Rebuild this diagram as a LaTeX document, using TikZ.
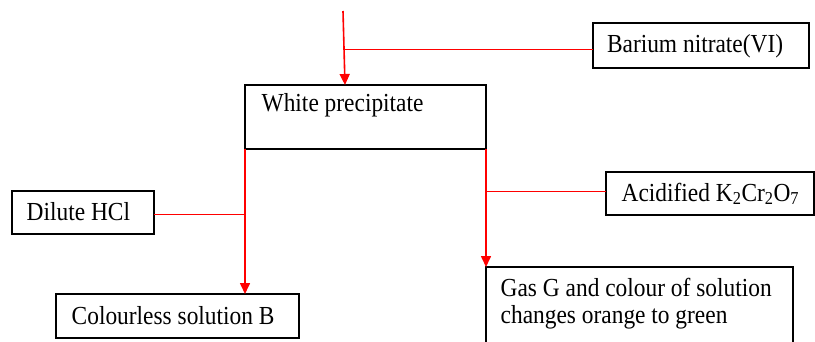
\documentclass[tikz,border=0pt]{standalone}
\usepackage{fontspec}
\setmainfont{Liberation Serif}[FakeStretch=0.9]
\usetikzlibrary{arrows.meta,calc}
\tikzset{
  box/.style={draw=black, line width=1.5pt, inner sep=0pt, outer sep=0pt, anchor=north west},
  txt/.style={inner sep=0pt, outer sep=0pt, anchor=base west, font=\fontsize{26}{27}\selectfont},
  link/.style={draw=red, line width=1.6pt},
  arr/.style={link, -{Triangle[width=10pt,length=11pt]}}
}
\begin{document}
\begin{tikzpicture}[x=1pt,y=-1pt]
\clip (0,0) rectangle (815,341);
\fill[white] (0,0) rectangle (815,341);
% boxes
\node[box, minimum width=216pt, minimum height=45pt] (bar) at (593,23) {};
\node[box, minimum width=241pt, minimum height=64pt] (wp) at (245,85) {};
\node[box, minimum width=142pt, minimum height=43pt] (dil) at (12,191) {};
\node[box, minimum width=243pt, minimum height=44pt] (col) at (56,294) {};
\node[box, minimum width=208pt, minimum height=43pt] (acid) at (606,172) {};
\node[box, minimum width=307pt, minimum height=95pt] (gas) at (486,267) {};
% texts
\node[txt] (tbar) at (607,52.3) {Barium nitrate(VI)};
\node[txt] (twp) at (261.7,111.7) {White precipitate};
\node[txt] (tdil) at (26.7,220) {Dilute HCl};
\node[txt] (tcol) at (71.7,324.3) {Colourless solution B};
\node[txt] (tacid) at (621.7,201) {Acidified K\textsubscript{2}Cr\textsubscript{2}O\textsubscript{7}};
\node[txt] (tgas1) at (500.7,296) {Gas G and colour of solution};
\node[txt] (tgas2) at (500.7,323.3) {changes orange to green};
% connectors
\coordinate (top) at (343,11);
\coordinate (wpin) at ($(wp.north west)+(100,0)$);
\coordinate (barin) at ($(bar.north west)+(0,26.5)$);
\coordinate (dilout) at ($(dil.north west)+(142,23.5)$);
\coordinate (acidin) at ($(acid.north west)+(0,19.5)$);
\coordinate (j1) at ($(top)!0.515!(wpin)$);
\draw[arr] (top) -- (wpin);
\draw[link] (barin) -- (barin -| j1);
\draw[arr] (wp.south west) -- (wp.south west |- col.north);
\draw[link] (dilout) -- (dilout -| wp.south west);
\draw[arr] (wp.south east) -- (wp.south east |- gas.north);
\draw[link] (acidin) -- (acidin -| wp.south east);
\end{tikzpicture}
\end{document}
